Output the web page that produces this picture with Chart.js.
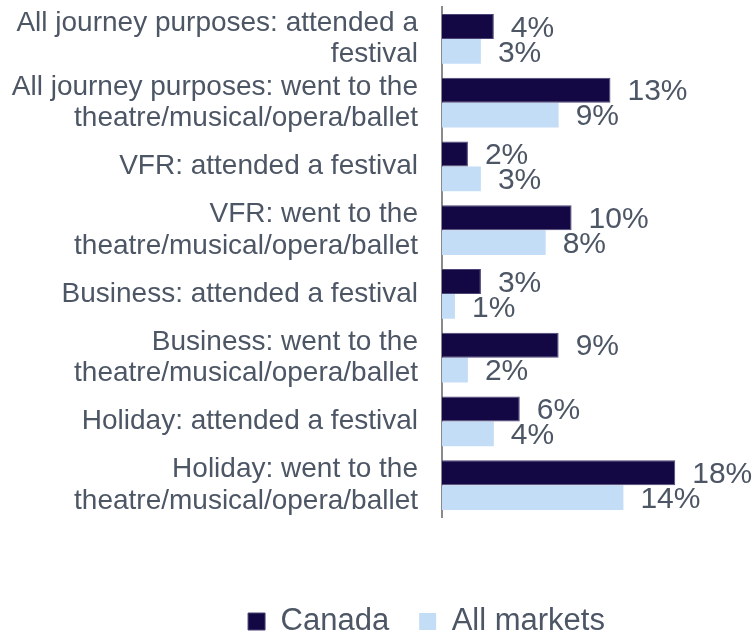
<!DOCTYPE html>
<html>
<head>
<meta charset="utf-8">
<script src="https://cdn.jsdelivr.net/npm/chart.js@4.4.0/dist/chart.umd.min.js"></script>
<style>
  html, body { margin: 0; padding: 0; background: #fff; overflow: hidden; }
  #wrap { width: 753px; height: 636px; }
</style>
</head>
<body>
<div id="wrap"><canvas id="chart"></canvas></div>
<script>
// Share of visits including each cultural activity, by journey purpose
const categories = [
  ['All journey purposes: attended a', 'festival'],
  ['All journey purposes: went to the', 'theatre/musical/opera/ballet'],
  'VFR: attended a festival',
  ['VFR: went to the', 'theatre/musical/opera/ballet'],
  'Business: attended a festival',
  ['Business: went to the', 'theatre/musical/opera/ballet'],
  'Holiday: attended a festival',
  ['Holiday: went to the', 'theatre/musical/opera/ballet']
];
const canada = [4, 13, 2, 10, 3, 9, 6, 18];
const allMarkets = [3, 9, 3, 8, 1, 2, 4, 14];
const seriesNames = ['Canada', 'All markets'];

const textColor = '#4d5665';
const fontFamily = '"Liberation Sans", Arial, sans-serif';

// percentage labels just past the end of each bar
const barValueLabels = {
  id: 'barValueLabels',
  afterDatasetsDraw(chart) {
    const ctx = chart.ctx;
    ctx.save();
    ctx.font = '30px ' + fontFamily;
    ctx.fillStyle = textColor;
    ctx.textAlign = 'left';
    ctx.textBaseline = 'middle';
    chart.data.datasets.forEach((ds, i) => {
      chart.getDatasetMeta(i).data.forEach((bar, j) => {
        ctx.fillText(ds.data[j] + '%', bar.x + 17, bar.y + 2);
      });
    });
    ctx.restore();
  }
};

// centre the legend under the right-hand part of the chart
const legendOffset = {
  id: 'legendOffset',
  afterLayout(chart) {
    if (chart.legend) chart.legend.left += 100;
  }
};

new Chart(document.getElementById('chart'), {
  type: 'bar',
  data: {
    labels: categories,
    datasets: [
      {
        label: seriesNames[0],
        data: canada,
        backgroundColor: '#130844',
        borderColor: '#4c4474',
        borderWidth: 1,
        barPercentage: 1,
        categoryPercentage: 0.78
      },
      {
        label: seriesNames[1],
        data: allMarkets,
        backgroundColor: '#c4ddf6',
        barPercentage: 1,
        categoryPercentage: 0.78
      }
    ]
  },
  options: {
    indexAxis: 'y',
    responsive: true,
    maintainAspectRatio: false,
    animation: false,
    layout: { padding: { top: 7, left: 0, right: 0, bottom: -11 } },
    plugins: {
      legend: {
        position: 'bottom',
        labels: {
          color: textColor,
          font: { size: 31, family: fontFamily },
          boxWidth: 17,
          boxHeight: 17,
          padding: 30
        }
      },
      tooltip: { enabled: false }
    },
    scales: {
      x: {
        min: 0,
        max: 24,
        grid: { display: false },
        border: { display: false },
        ticks: { display: false },
        afterFit(scale) { scale.height = 59; }
      },
      y: {
        grid: { display: false },
        border: { display: true, color: '#8a8a8a', width: 2 },
        ticks: {
          color: textColor,
          autoSkip: false,
          font: { size: 28, family: fontFamily, lineHeight: 1.12 },
          padding: 16
        },
        // wide label column, no extra room above/below for the tick text
        afterFit(scale) {
          scale.width = 442;
          scale.paddingTop = 0;
          scale.paddingBottom = 0;
        }
      }
    }
  },
  plugins: [barValueLabels, legendOffset]
});
</script>
</body>
</html>
